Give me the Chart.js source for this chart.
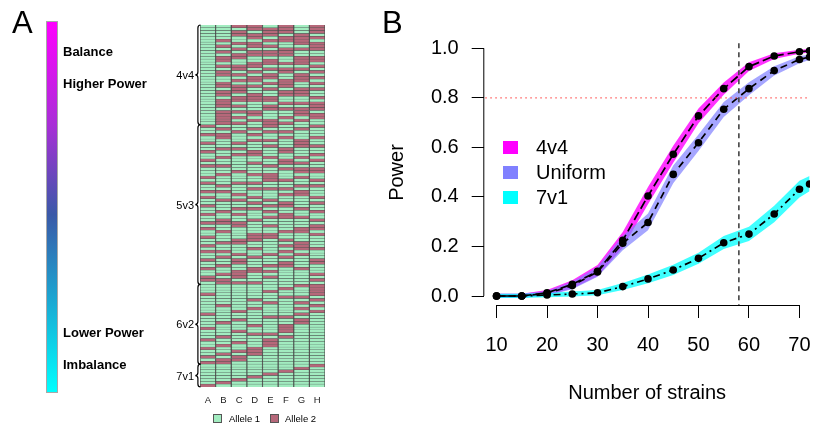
<!DOCTYPE html>
<html>
<head>
<meta charset="UTF-8">
<title>Allele balance and power</title>
<script src="https://cdn.jsdelivr.net/npm/chart.js"></script>
<style>
  body { margin: 0; background: #fff; }
  #wrap { position: relative; width: 814px; height: 425px; overflow: hidden; }
  #chartA { position: absolute; left: 0; top: 0; }
  #chartB { position: absolute; left: 380px; top: 0; }
</style>
</head>
<body>
<div id="wrap">
  <canvas id="chartA" width="380" height="425"></canvas>
  <canvas id="chartB" width="434" height="425"></canvas>
</div>
<script>
// ---- panel A: founder allele patterns (1 = allele 1, 2 = allele 2) ----
const founders = ['A', 'B', 'C', 'D', 'E', 'F', 'G', 'H'];
const rows4v4 = [
  '11221212', '11122212', '11212212', '11222121', '11121222', '12112221', '11221122', '12122112',
  '11211222', '12122211', '11222211', '12211122', '12112122', '11122221', '12221112', '11212221',
  '12121212', '12212121', '11122122', '11221221', '12112212', '12221211', '11212122', '12211221',
  '12121221', '11222112', '12222111', '12111222', '12212112', '11112222', '12221121', '12121122',
  '12211212', '12122121', '12212211'
];
const rows5v3 = [
  '21112112', '12121121', '11212211', '22121111', '12111212', '11122121', '21211121', '11112122',
  '12211211', '21121211', '11221112', '12112121', '21111212', '11121221', '22112111', '11111222',
  '11211122', '12122111', '21112121', '11112212', '21221111', '12111122', '11122211', '22111121',
  '11211221', '21121112', '12212111', '11121212', '21112211', '11221121', '12112112', '21211211',
  '11112221', '12121112', '22211111', '11212112', '21111122', '12111221', '11122112', '21122111',
  '11221211', '12211121', '21111221', '11121122', '22111211', '11212121', '12121211', '21211112',
  '11211212', '12112211', '21121121', '11222111', '12211112', '21212111', '22111112', '12221111'
];
const rows6v2 = [
  '11111122', '11111212', '11112112', '21111112', '11111221', '11121112', '11112121', '12111112',
  '11121121', '11211112', '21111121', '11112211', '11211121', '12111121', '11121211', '21111211',
  '11211211', '11122111', '12111211', '21112111', '11212111', '12112111', '21121111', '11221111',
  '12121111', '21211111', '12211111', '22111111'
];
const rows7v1 = [
  '11111112', '11111121', '11111211', '11112111', '11121111', '11211111', '12111111', '21111111'
];
const groupNames = ['4v4', '5v3', '6v2', '7v1'];
const alleleNames = ['Allele 1', 'Allele 2'];
const barTopLabels = ['Balance', 'Higher Power'];
const barBottomLabels = ['Lower Power', 'Imbalance'];

// ---- panel B: power by number of strains ----
const strains = [10, 15, 20, 25, 30, 35, 40, 45, 50, 55, 60, 65, 70, 72];
const power4v4 = [0, 0, 0.013, 0.047, 0.100, 0.225, 0.404, 0.572, 0.727, 0.837, 0.926, 0.969, 0.986, 0.990];
const lo4v4    = [-0.007, -0.007, 0.003, 0.030, 0.080, 0.195, 0.370, 0.538, 0.697, 0.812, 0.908, 0.957, 0.978, 0.983];
const hi4v4    = [0.009, 0.009, 0.024, 0.064, 0.125, 0.258, 0.440, 0.607, 0.757, 0.862, 0.944, 0.980, 0.994, 0.997];
const powerUni = [0, 0, 0.010, 0.042, 0.097, 0.213, 0.297, 0.491, 0.619, 0.754, 0.837, 0.910, 0.955, 0.965];
const loUni    = [-0.007, -0.007, 0.001, 0.027, 0.078, 0.185, 0.265, 0.455, 0.585, 0.723, 0.810, 0.890, 0.940, 0.953];
const hiUni    = [0.009, 0.009, 0.020, 0.058, 0.117, 0.242, 0.333, 0.527, 0.652, 0.783, 0.863, 0.928, 0.968, 0.975];
const power7v1 = [0, 0, 0.004, 0.008, 0.013, 0.038, 0.069, 0.105, 0.152, 0.215, 0.250, 0.331, 0.431, 0.452];
const lo7v1    = [-0.008, -0.008, -0.005, -0.002, 0.003, 0.024, 0.052, 0.085, 0.130, 0.190, 0.222, 0.298, 0.398, 0.423];
const hi7v1    = [0.009, 0.009, 0.012, 0.018, 0.024, 0.053, 0.087, 0.126, 0.175, 0.242, 0.280, 0.364, 0.465, 0.484];
const seriesNames = ['4v4', 'Uniform', '7v1'];
const xTicks = [10, 20, 30, 40, 50, 60, 70];
const yTicks = [0, 0.2, 0.4, 0.6, 0.8, 1.0];
const powerTarget = 0.8;
const chosenStrains = 58;

const FONT = "'Liberation Sans', Arial, Helvetica, sans-serif";
Chart.defaults.font.family = FONT;
Chart.defaults.color = '#000';

// ================= chart A =================
const allRows = rows4v4.concat(rows5v3, rows6v2, rows7v1);
const groups = [rows4v4, rows5v3, rows6v2, rows7v1];
const GREEN = '#a2ecc0', RED = '#b6687a';

const panelA = {
  id: 'panelA',
  afterDraw(chart) {
    const ctx = chart.ctx;
    const y = chart.scales.y;
    ctx.save();
    // panel letter
    ctx.fillStyle = '#000';
    ctx.font = '31px ' + FONT;
    ctx.textBaseline = 'alphabetic';
    ctx.textAlign = 'left';
    ctx.fillText('A', 12, 33);

    // colour bar
    const g = ctx.createLinearGradient(0, 21, 0, 393);
    g.addColorStop(0, '#ff00ff');
    g.addColorStop(0.28, '#a82fd6');
    g.addColorStop(0.52, '#3a59a8');
    g.addColorStop(0.75, '#1ba7d2');
    g.addColorStop(1, '#00ffff');
    ctx.fillStyle = g;
    ctx.fillRect(46, 21, 12, 372);
    ctx.strokeStyle = '#a8a8a8';
    ctx.lineWidth = 1;
    ctx.strokeRect(46.5, 21.5, 11, 371);

    ctx.fillStyle = '#000';
    ctx.font = 'bold 13px ' + FONT;
    ctx.textBaseline = 'middle';
    ctx.fillText(barTopLabels[0], 63, 52);
    ctx.fillText(barTopLabels[1], 63, 84);
    ctx.fillText(barBottomLabels[0], 63, 333);
    ctx.fillText(barBottomLabels[1], 63, 365);

    // group braces and labels
    const rowH = y.getPixelForValue(1) - y.getPixelForValue(0);
    let start = 0;
    ctx.font = '11px ' + FONT;
    ctx.textAlign = 'right';
    ctx.strokeStyle = '#000';
    ctx.lineWidth = 1.2;
    groups.forEach((rows, gi) => {
      const end = start + rows.length - 1;
      const y0 = y.getPixelForValue(start) - rowH / 2;
      const y1 = y.getPixelForValue(end) + rowH / 2;
      const ym = (y0 + y1) / 2;
      const xr = 200.5, w = 2.6;
      ctx.beginPath();
      ctx.moveTo(xr, y0);
      ctx.quadraticCurveTo(xr - w, y0, xr - w, y0 + 3);
      ctx.lineTo(xr - w, ym - 3);
      ctx.quadraticCurveTo(xr - w, ym, xr - 2 * w, ym);
      ctx.quadraticCurveTo(xr - w, ym, xr - w, ym + 3);
      ctx.lineTo(xr - w, y1 - 3);
      ctx.quadraticCurveTo(xr - w, y1, xr, y1);
      ctx.stroke();
      ctx.fillText(groupNames[gi], 194, ym + 1);
      start = end + 1;
    });

    // allele legend
    ctx.textAlign = 'left';
    ctx.font = '9.5px ' + FONT;
    ctx.lineWidth = 1;
    ctx.strokeStyle = '#555';
    [[213, GREEN, 229], [270, RED, 285]].forEach(([sx, col, tx], i) => {
      ctx.fillStyle = col;
      ctx.fillRect(sx, 414, 9, 9);
      ctx.strokeRect(sx + 0.5, 414.5, 8, 8);
      ctx.fillStyle = '#000';
      ctx.fillText(alleleNames[i], tx, 419);
    });
    ctx.restore();
  }
};

new Chart(document.getElementById('chartA'), {
  type: 'bar',
  data: {
    labels: allRows.map((r, i) => String(i)),
    datasets: founders.map((f, j) => ({
      label: f,
      data: allRows.map(() => 1),
      backgroundColor: allRows.map(r => (r[j] === '2' ? RED : GREEN)),
      borderColor: '#4a4f4c',
      borderWidth: { top: 0.45, bottom: 0.45, left: 0.9, right: 0.9 },
      borderSkipped: false,
      barPercentage: 1,
      categoryPercentage: 1
    }))
  },
  options: {
    indexAxis: 'y',
    responsive: false,
    animation: false,
    events: [],
    layout: { padding: { left: 200, right: 55, top: 25, bottom: 0 } },
    plugins: { legend: { display: false }, tooltip: { enabled: false } },
    scales: {
      x: { type: 'linear', stacked: true, min: 0, max: 8, display: false },
      y: { type: 'category', stacked: true, display: false },
      cols: {
        type: 'category', axis: 'x', position: 'bottom', labels: founders, offset: true,
        grid: { display: false }, border: { display: false },
        ticks: { font: { size: 9.5 }, color: '#222', padding: 0 },
        afterFit: s => { s.height = 38; s.paddingLeft = 0; s.paddingRight = 0; }
      }
    }
  },
  plugins: [panelA]
});

// ================= chart B =================
const pts = arr => strains.map((x, i) => ({ x: x, y: arr[i] }));
const bandColors = ['rgba(255,0,255,0.8)', 'rgba(128,128,255,0.7)', 'rgba(0,255,255,0.75)'];
const legendColors = ['#ff00ff', '#8080ff', '#00ffff'];
const dashes = [[9, 4], [7, 5], [2, 4, 7, 4]];
const means = [power4v4, powerUni, power7v1];
const lows = [lo4v4, loUni, lo7v1];
const highs = [hi4v4, hiUni, hi7v1];

const lineSets = means.map((m, i) => ({
  label: seriesNames[i], data: pts(m), borderColor: '#000', borderWidth: 1.7,
  borderDash: dashes[i], pointRadius: 3.8, pointBackgroundColor: '#000', pointBorderWidth: 0,
  fill: false, tension: 0, order: 0
}));
const bandSets = [];
means.forEach((m, i) => {
  bandSets.push({ label: 'lo', data: pts(lows[i]), borderWidth: 0, pointRadius: 0, fill: false, order: 3 - i });
  bandSets.push({ label: 'hi', data: pts(highs[i]), borderWidth: 0, pointRadius: 0,
    fill: '-1', backgroundColor: bandColors[i], order: 3 - i });
});

const panelB = {
  id: 'panelB',
  afterDatasetsDraw(chart) {
    const { ctx, chartArea } = chart;
    const x = chart.scales.x, y = chart.scales.y;
    ctx.save();
    // target power line
    ctx.strokeStyle = '#ff5c5c';
    ctx.lineWidth = 1.1;
    ctx.setLineDash([1.5, 3.5]);
    const yp = y.getPixelForValue(powerTarget);
    ctx.beginPath(); ctx.moveTo(chartArea.left + 1, yp); ctx.lineTo(chartArea.right, yp); ctx.stroke();
    // chosen number of strains
    ctx.strokeStyle = '#444';
    ctx.lineWidth = 1.6;
    ctx.setLineDash([5, 4]);
    const xp = x.getPixelForValue(chosenStrains);
    ctx.beginPath(); ctx.moveTo(xp, y.getPixelForValue(1.02)); ctx.lineTo(xp, chartArea.bottom); ctx.stroke();
    ctx.restore();
  },
  afterDraw(chart) {
    const { ctx, chartArea } = chart;
    const x = chart.scales.x, y = chart.scales.y;
    ctx.save();
    // R-style axis lines
    ctx.strokeStyle = '#000';
    ctx.lineWidth = 1;
    ctx.beginPath();
    ctx.moveTo(x.getPixelForValue(xTicks[0]), chartArea.bottom + 0.5);
    ctx.lineTo(x.getPixelForValue(xTicks[xTicks.length - 1]), chartArea.bottom + 0.5);
    ctx.moveTo(chartArea.left - 0.5, y.getPixelForValue(yTicks[0]));
    ctx.lineTo(chartArea.left - 0.5, y.getPixelForValue(yTicks[yTicks.length - 1]));
    ctx.stroke();
    // panel letter
    ctx.fillStyle = '#000';
    ctx.font = '31px ' + FONT;
    ctx.textAlign = 'left';
    ctx.textBaseline = 'alphabetic';
    ctx.fillText('B', 2, 32.5);
    // legend
    ctx.font = '20px ' + FONT;
    ctx.textBaseline = 'middle';
    seriesNames.forEach((n, i) => {
      const cy = 147.5 + i * 25;
      ctx.fillStyle = legendColors[i];
      ctx.fillRect(123, cy - 6.5, 15, 13);
      ctx.fillStyle = '#000';
      ctx.fillText(n, 156, cy + 1);
    });
    ctx.restore();
  }
};

new Chart(document.getElementById('chartB'), {
  type: 'line',
  data: { datasets: lineSets.concat(bandSets) },
  options: {
    responsive: false,
    animation: false,
    events: [],
    layout: { padding: { left: 0, right: 0, top: 40, bottom: 0 } },
    plugins: { legend: { display: false }, tooltip: { enabled: false }, filler: { propagate: false } },
    scales: {
      x: {
        type: 'linear', min: 7.573, max: 72.09,
        afterBuildTicks: s => { s.ticks = xTicks.map(v => ({ value: v })); },
        grid: { drawOnChartArea: false, drawTicks: true, tickLength: 13, color: '#000', lineWidth: 1 },
        border: { display: false },
        ticks: { font: { size: 20 }, color: '#000', padding: 15, maxRotation: 0, autoSkip: false },
        title: { display: true, text: 'Number of strains', font: { size: 20 }, color: '#000', padding: { top: 0, bottom: 20 } },
        afterFit: s => { s.height = 120; s.paddingLeft = 0; s.paddingRight = 0; }
      },
      y: {
        type: 'linear', min: -0.0363, max: 1.0335,
        afterBuildTicks: s => { s.ticks = yTicks.map(v => ({ value: v })); },
        grid: { drawOnChartArea: false, drawTicks: true, tickLength: 12.6, color: '#000', lineWidth: 1 },
        border: { display: false },
        ticks: { font: { size: 20 }, color: '#000', padding: 13, callback: v => v.toFixed(1) },
        title: { display: true, text: 'Power', font: { size: 20 }, color: '#000', padding: { top: 5, bottom: 0 } },
        afterFit: s => { s.width = 104.3; s.paddingTop = 0; s.paddingBottom = 0; }
      }
    }
  },
  plugins: [panelB]
});
</script>
</body>
</html>
